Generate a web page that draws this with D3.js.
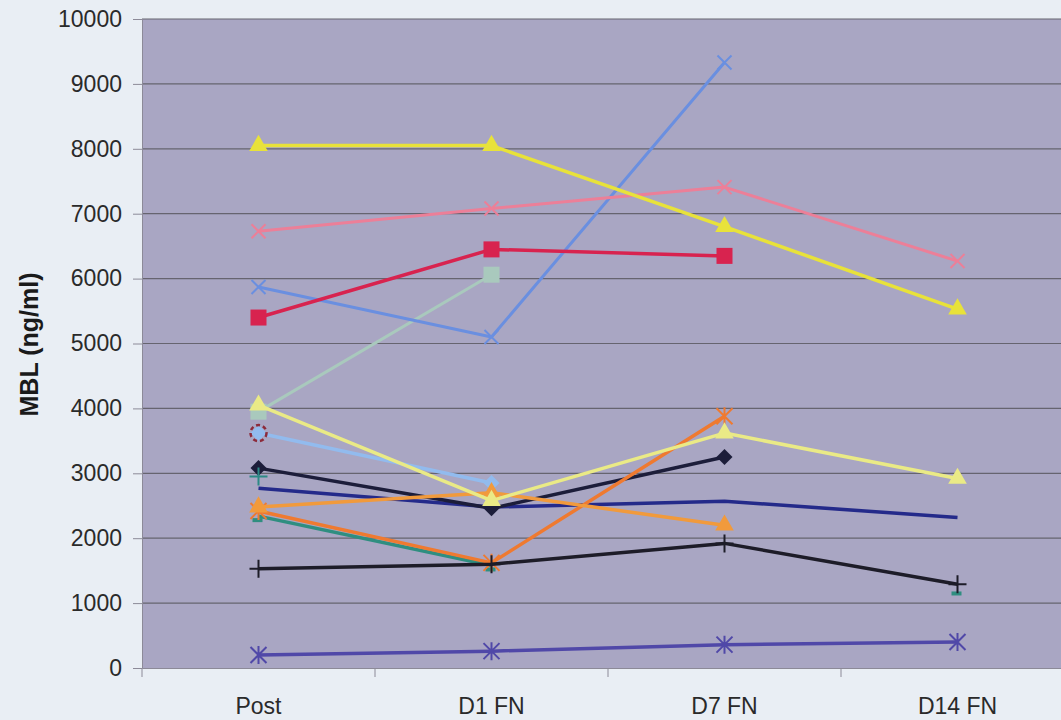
<!DOCTYPE html>
<html>
<head>
<meta charset="utf-8">
<script src="https://cdn.jsdelivr.net/npm/d3@7"></script>
<style>
  html, body { margin: 0; padding: 0; background: #e9eef4; }
  svg { display: block; }
  text { font-family: "Liberation Sans", Arial, sans-serif; }
</style>
</head>
<body>
<svg id="chart" width="1061" height="720"></svg>
<script>
// Time points
const timepoints = ["Post", "D1 FN", "D7 FN", "D14 FN"];
const yTicks = [0, 1000, 2000, 3000, 4000, 5000, 6000, 7000, 8000, 9000, 10000];

// MBL (ng/ml) per patient; null = not measured
const patientA = [8050, 8050, 6800, 5530];
const patientB = [6730, 7080, 7410, 6270];
const patientC = [5400, 6450, 6350, null];
const patientD = [3950, 6060, null, null];
const patientE = [5870, 5100, 9330, null];
const patientF = [4050, 2580, 3620, 2920];
const patientG = [3620, 2850, null, null];
const patientH = [3080, 2460, 3250, null];
const patientI = [2770, 2480, 2570, 2320];
const patientJ = [2420, 1620, 3880, null];
const patientK = [2480, 2700, 2200, null];
const patientL = [2340, 1580, null, 1210];
const patientM = [2950, null, null, null];
const patientN = [1530, 1600, 1920, 1290];
const patientO = [200, 260, 360, 400];
const patientP = [3620, null, null, null];

const series = [
  { values: patientD, color: "#a9c9bd", marker: "square", width: 3 },
  { values: patientE, color: "#6a8fe0", marker: "x", width: 3 },
  { values: patientB, color: "#ec7f98", marker: "x", width: 3 },
  { values: patientC, color: "#d8234f", marker: "square", width: 3.5 },
  { values: patientG, color: "#92bbee", marker: "diamond", width: 3.5 },
  { values: patientP, color: "#8c2a3a", marker: "ring", width: 3 },
  { values: patientI, color: "#242a8a", marker: "none", width: 3.5 },
  { values: patientH, color: "#1c1d3a", marker: "diamond", width: 3.5 },
  { values: patientL, color: "#2f8e80", marker: "dash", width: 3.5 },
  { values: patientJ, color: "#ef7a30", marker: "asterisk", width: 3.5 },
  { values: patientK, color: "#f19a3c", marker: "triangle", width: 3.5 },
  { values: patientM, color: "#2c8a86", marker: "plus", width: 3 },
  { values: patientF, color: "#eaea86", marker: "triangle", width: 3.5 },
  { values: patientN, color: "#1d1c28", marker: "plus", width: 3.5 },
  { values: patientO, color: "#5048a8", marker: "asterisk", width: 3.5 },
  { values: patientA, color: "#e8e23a", marker: "triangle", width: 3.5 }
];

const svg = d3.select("#chart");
const plot = { left: 142, top: 19, right: 1074, bottom: 668 };

const x = d3.scaleBand().domain(timepoints).range([plot.left, plot.right]);
const y = d3.scaleLinear().domain([0, 10000]).range([plot.bottom, plot.top]);
const cx = d => x(d) + x.bandwidth() / 2;

// plot background
svg.append("rect")
  .attr("x", plot.left).attr("y", plot.top)
  .attr("width", plot.right - plot.left).attr("height", plot.bottom - plot.top)
  .attr("fill", "#a9a6c3");

// horizontal gridlines
svg.append("g").selectAll("line").data(yTicks.slice(1)).join("line")
  .attr("x1", plot.left).attr("x2", plot.right)
  .attr("y1", d => y(d)).attr("y2", d => y(d))
  .attr("stroke", "#66646f").attr("stroke-width", 1.2);

// y axis
const yAxis = d3.axisLeft(y).tickValues(yTicks).tickSize(9).tickPadding(11).tickFormat(d3.format("d"));
const gy = svg.append("g").attr("transform", `translate(${plot.left},0)`).call(yAxis);
gy.select(".domain").attr("stroke", "#8c8a98");
gy.selectAll(".tick line").attr("stroke", "#8c8a98");
gy.selectAll("text").attr("fill", "#2a2a2a").style("font-size", "23px");

// x axis
const xAxis = d3.axisBottom(x).tickSize(0).tickPadding(30);
const gx = svg.append("g").attr("transform", `translate(0,${plot.bottom})`).call(xAxis);
gx.select(".domain").attr("stroke", "#8c8a98");
gx.selectAll("text").attr("fill", "#2a2a2a").style("font-size", "23px");
// category boundary ticks
svg.append("g").selectAll("line").data(timepoints).join("line")
  .attr("x1", d => x(d)).attr("x2", d => x(d))
  .attr("y1", plot.bottom).attr("y2", plot.bottom + 9)
  .attr("stroke", "#8c8a98");

// y axis title
svg.append("text")
  .attr("transform", `translate(38,${(plot.top + plot.bottom) / 2 + 1}) rotate(-90)`)
  .attr("text-anchor", "middle")
  .attr("font-weight", "bold")
  .style("font-size", "25px")
  .attr("fill", "#1a1a1a")
  .text("MBL (ng/ml)");

// lines
const line = d3.line()
  .defined(d => d.v !== null)
  .x(d => cx(d.t))
  .y(d => y(d.v));

const g = svg.append("g");
series.forEach(s => {
  const pts = s.values.map((v, i) => ({ t: timepoints[i], v }));
  g.append("path").datum(pts)
    .attr("d", line)
    .attr("fill", "none")
    .attr("stroke", s.color)
    .attr("stroke-width", s.width)
    .attr("stroke-linejoin", "round");

  pts.filter(p => p.v !== null).forEach(p => {
    const px = cx(p.t), py = y(p.v);
    const m = g.append("g").attr("transform", `translate(${px},${py})`);
    switch (s.marker) {
      case "triangle":
        m.append("path").attr("d", d3.symbol(d3.symbolTriangle, 150)()).attr("fill", s.color);
        break;
      case "square":
        m.append("rect").attr("x", -8).attr("y", -8).attr("width", 16).attr("height", 16).attr("fill", s.color);
        break;
      case "diamond":
        m.append("path").attr("d", "M0,-8L8,0L0,8L-8,0Z").attr("fill", s.color);
        break;
      case "ring":
        m.append("circle").attr("r", 8).attr("fill", "none")
          .attr("stroke", s.color).attr("stroke-width", 2.5).attr("stroke-dasharray", "4,3");
        break;
      case "x":
        m.append("path").attr("d", "M-7,-7L7,7M-7,7L7,-7").attr("stroke", s.color).attr("stroke-width", 2);
        break;
      case "asterisk":
        m.append("path").attr("d", "M-8,-8L8,8M-8,8L8,-8M0,-9L0,9").attr("stroke", s.color).attr("stroke-width", 2);
        break;
      case "plus":
        m.append("path").attr("d", "M-9,0L9,0M0,-9L0,9").attr("stroke", s.color).attr("stroke-width", 2);
        break;
      case "dash":
        m.append("rect").attr("x", -6).attr("y", 2).attr("width", 10).attr("height", 4).attr("fill", s.color);
        break;
    }
  });
});
</script>
</body>
</html>
